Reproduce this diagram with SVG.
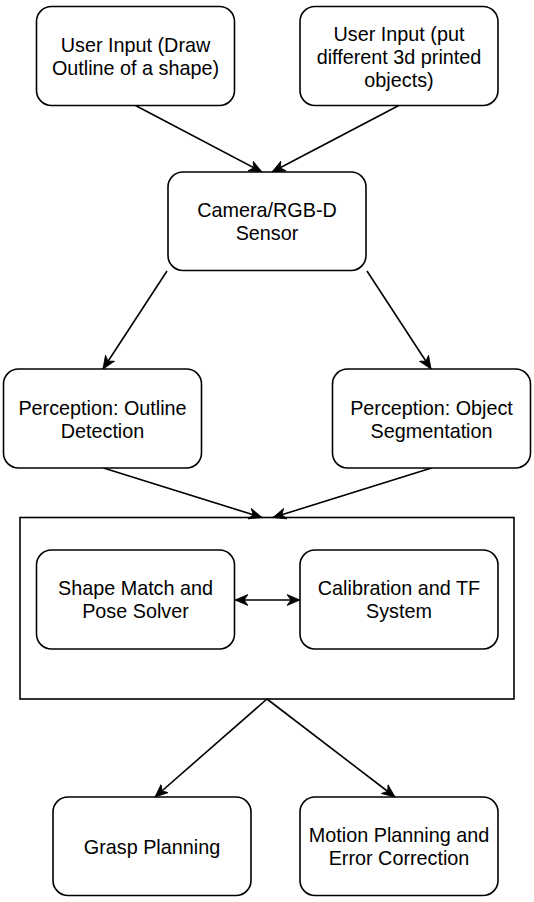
<svg xmlns="http://www.w3.org/2000/svg" width="534" height="902" viewBox="0 0 534 902">
<style>
.box{fill:#fff;stroke:#000;stroke-width:1.6}
.cont{fill:#fff;stroke:#000;stroke-width:1.6}
.lbl{font-family:"Liberation Sans",Arial,Helvetica,sans-serif;font-size:19.8px;fill:#000;text-anchor:middle}
.edge{fill:none;stroke:#000;stroke-width:1.6}
</style>
<defs>
<marker id="arr" markerUnits="userSpaceOnUse" markerWidth="14" markerHeight="12" refX="13" refY="6" orient="auto-start-reverse" viewBox="0 0 14 12">
<path d="M0,0.5 L13,6 L0,11.5 L3.8,6 z" fill="#000" stroke="#000" stroke-width="0.8"/>
</marker>
</defs>
<rect width="534" height="902" fill="#fff"/>
<g id="container">
<rect class="cont" x="20" y="517.5" width="494" height="181.5"/>
</g>
<g id="connectors">
<line class="edge" x1="135.5" y1="105.5" x2="262" y2="172" marker-end="url(#arr)"/>
<line class="edge" x1="398.8" y1="105.5" x2="272" y2="172" marker-end="url(#arr)"/>
<line class="edge" x1="167" y1="271" x2="103" y2="369" marker-end="url(#arr)"/>
<line class="edge" x1="367" y1="271" x2="431" y2="369" marker-end="url(#arr)"/>
<line class="edge" x1="103.5" y1="468" x2="262" y2="517.5" marker-end="url(#arr)"/>
<line class="edge" x1="431.5" y1="468" x2="273" y2="517.5" marker-end="url(#arr)"/>
<line class="edge" x1="235" y1="600" x2="300" y2="600" marker-start="url(#arr)" marker-end="url(#arr)"/>
<line class="edge" x1="267" y1="699" x2="155" y2="797" marker-end="url(#arr)"/>
<line class="edge" x1="267" y1="699" x2="395" y2="797" marker-end="url(#arr)"/>
</g>
<g id="user-input-draw">
<rect class="box" x="36.5" y="6.5" width="198" height="99" rx="15" ry="15"/>
<text class="lbl" x="135.5" y="52">User Input (Draw</text>
<text class="lbl" x="135.5" y="75">Outline of a shape)</text>
</g>
<g id="user-input-objects">
<rect class="box" x="300" y="6.5" width="198" height="99" rx="15" ry="15"/>
<text class="lbl" x="399" y="41">User Input (put</text>
<text class="lbl" x="399" y="64">different 3d printed</text>
<text class="lbl" x="399" y="87">objects)</text>
</g>
<g id="camera">
<rect class="box" x="168" y="172" width="198" height="98.5" rx="15" ry="15"/>
<text class="lbl" x="267" y="217">Camera/RGB-D</text>
<text class="lbl" x="267" y="240">Sensor</text>
</g>
<g id="perception-outline">
<rect class="box" x="3.5" y="369" width="198" height="99" rx="15" ry="15"/>
<text class="lbl" x="102.5" y="414.5">Perception: Outline</text>
<text class="lbl" x="102.5" y="437.5">Detection</text>
</g>
<g id="perception-object">
<rect class="box" x="332.5" y="369" width="198" height="99" rx="15" ry="15"/>
<text class="lbl" x="431.5" y="414.5">Perception: Object</text>
<text class="lbl" x="431.5" y="437.5">Segmentation</text>
</g>
<g id="shape-match">
<rect class="box" x="36.5" y="550" width="198" height="99" rx="15" ry="15"/>
<text class="lbl" x="135.5" y="595">Shape Match and</text>
<text class="lbl" x="135.5" y="618">Pose Solver</text>
</g>
<g id="calibration">
<rect class="box" x="300" y="550" width="198" height="99" rx="15" ry="15"/>
<text class="lbl" x="399" y="595">Calibration and TF</text>
<text class="lbl" x="399" y="618">System</text>
</g>
<g id="grasp-planning">
<rect class="box" x="53" y="797" width="198" height="98.5" rx="15" ry="15"/>
<text class="lbl" x="152" y="853.5">Grasp Planning</text>
</g>
<g id="motion-planning">
<rect class="box" x="300" y="797" width="198" height="98.5" rx="15" ry="15"/>
<text class="lbl" x="399" y="842">Motion Planning and</text>
<text class="lbl" x="399" y="865">Error Correction</text>
</g>
</svg>
